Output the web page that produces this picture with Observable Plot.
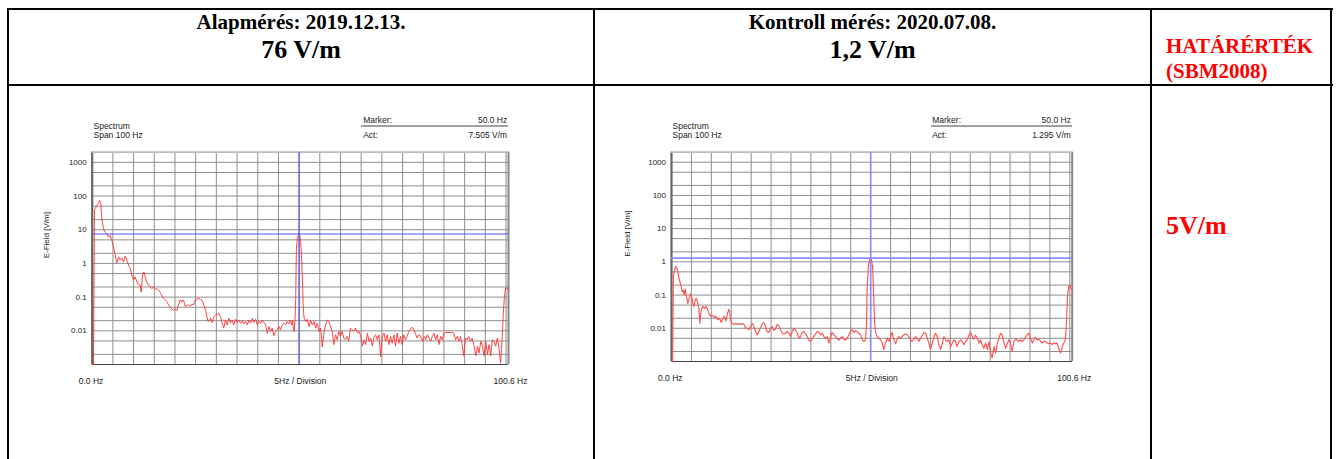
<!DOCTYPE html>
<html><head><meta charset="utf-8">
<script src="https://cdn.jsdelivr.net/npm/d3@7"></script>
<script src="https://cdn.jsdelivr.net/npm/@observablehq/plot@0.6"></script>
<style>
body{margin:0;background:#fff;width:1338px;height:459px;overflow:hidden;position:relative;font-family:"Liberation Serif","Times New Roman",serif;}
.ln{position:absolute;background:#000;}
.t{position:absolute;font-weight:bold;white-space:nowrap;color:#000;}
.red{color:#ff0000;}
.plot{position:absolute;}
.uline{position:absolute;height:1.5px;background:#a0a0a0;}
</style></head><body>
<div class="ln" style="left:7px;top:8px;width:1326px;height:2px"></div>
<div class="ln" style="left:7px;top:84px;width:1326px;height:2px"></div>
<div class="ln" style="left:7px;top:8px;width:2px;height:460px"></div>
<div class="ln" style="left:593px;top:8px;width:2px;height:460px"></div>
<div class="ln" style="left:1150px;top:8px;width:2px;height:460px"></div>
<div class="ln" style="left:1330px;top:8px;width:2px;height:460px"></div>

<div class="t" id="h1a" style="left:9px;width:584px;top:12px;font-size:21px;line-height:21px;text-align:center"></div>
<div class="t" id="h1b" style="left:9px;width:584px;top:37px;font-size:26px;line-height:26px;text-align:center"></div>
<div class="t" id="h2a" style="left:595px;width:555px;top:12px;font-size:21px;line-height:21px;text-align:center"></div>
<div class="t" id="h2b" style="left:595px;width:555px;top:37px;font-size:26px;line-height:26px;text-align:center"></div>
<div class="t red" id="h3a" style="left:1166px;top:36px;font-size:21px;line-height:21px"></div>
<div class="t red" id="h3b" style="left:1166px;top:61px;font-size:21px;line-height:21px"></div>
<div class="t red" id="lim" style="left:1166px;top:213px;font-size:26px;line-height:26px"></div>

<div class="plot" id="p1" style="left:30px;top:100px"></div>
<div class="plot" id="p2" style="left:610px;top:100px"></div>
<div class="uline" style="left:361px;top:125px;width:147px"></div>
<div class="uline" style="left:931px;top:125px;width:141px"></div>

<script>
// ---- header texts ----
const headers = ["Alapmérés: 2019.12.13.", "76 V/m", "Kontroll mérés: 2020.07.08.", "1,2 V/m"];
const limitTitle = ["HATÁRÉRTÉK", "(SBM2008)"];
const limitValue = "5V/m";

// ---- spectrum 1 (Alapmérés) : frequency [Hz], E-field [V/m] ----
const freq1 = [0.0,0.3,0.55,0.72,1.12,1.52,1.76,2.09,2.33,2.73,3.13,3.54,3.94,4.34,4.74,5.15,5.55,5.95,6.36,6.76,7.16,7.57,7.97,8.37,8.77,9.18,9.58,9.98,10.39,10.79,11.19,11.59,11.84,12.16,12.48,12.8,13.2,13.61,14.01,14.41,14.82,15.22,15.62,16.03,16.43,16.83,17.24,17.64,18.05,18.45,18.85,19.25,19.65,20.06,20.46,20.86,21.26,21.67,22.07,22.47,22.88,23.28,23.68,24.09,24.49,24.89,25.3,25.8,26.2,26.6,27.0,27.4,27.8,28.0,28.4,28.6,29.0,29.4,29.8,30.2,30.6,31.0,31.4,31.8,32.2,32.6,
33.0,33.4,33.8,34.2,34.6,35.0,35.4,35.9,36.3,36.7,37.1,37.5,37.9,38.3,38.7,39.1,39.5,39.9,40.3,40.7,41.1,41.5,41.9,42.3,42.7,43.1,43.5,43.9,44.3,44.7,45.1,45.5,45.9,46.3,46.7,47.1,47.5,47.9,48.2,48.4,48.6,48.8,49.0,49.17,49.33,49.58,49.85,50.0,50.14,50.38,50.62,50.86,51.0,51.2,51.6,52.0,52.4,52.8,53.2,53.6,54.0,54.4,54.8,55.2,55.6,56.0,56.4,56.8,57.2,57.6,58.0,58.4,58.8,59.2,59.6,60.0,60.4,60.8,61.2,61.6,62.0,62.4,62.8,63.2,63.6,64.1,64.5,64.9,65.3,65.7,66.1,66.5,66.9,67.3,67.7,68.1,68.5,68.9,69.3,69.7,70.1,70.5,70.9,71.3,71.7,72.1,72.5,72.9,73.3,73.7,74.1,74.5,74.9,75.3,75.7,76.1,
76.5,76.9,77.3,77.7,78.1,78.5,78.9,79.4,79.8,80.2,80.6,81.0,81.4,81.8,82.2,82.6,83.0,83.4,83.8,84.2,84.6,85.0,85.4,86.2,87.0,87.4,87.8,88.2,88.6,89.0,89.4,89.8,90.2,90.6,91.0,91.4,91.8,92.3,92.7,93.1,93.5,93.9,94.3,94.7,95.1,95.5,95.9,96.3,96.7,97.1,97.5,97.9,98.3,98.7,99.1,99.35,99.6,99.9,100.3,100.6];
const field1 = [0.001,0.001,40,42,53,59,74,59,21,10.7,8.5,7.6,6.0,6.8,4.8,3.1,1.8,1.05,1.55,1.25,1.45,1.1,1.65,1.25,0.89,0.71,0.45,0.32,0.4,0.28,0.23,0.23,0.14,0.45,0.56,0.4,0.28,0.23,0.2,0.18,0.2,0.17,0.18,0.16,0.14,0.11,0.093,0.083,0.074,0.059,0.05,0.045,0.04,0.045,0.04,0.059,0.083,0.071,0.083,0.053,0.056,0.059,0.053,0.062,0.059,0.083,0.087,0.091,0.085,0.078,0.058,0.041,0.024,0.019,0.021,0.024,0.0176,0.026,0.029,0.031,0.033,0.026,0.0168,0.012,0.021,0.015,
0.024,0.017,0.021,0.015,0.022,0.0176,0.021,0.0168,0.02,0.016,0.0188,0.015,0.021,0.0168,0.0236,0.0176,0.022,0.015,0.0188,0.0168,0.021,0.0176,0.015,0.0085,0.0134,0.0096,0.012,0.0071,0.0096,0.0107,0.0134,0.0107,0.015,0.0168,0.015,0.0188,0.016,0.021,0.015,0.021,0.012,0.0096,0.02,0.083,2.45,6.0,7.1,7.5,6.8,4.8,1.25,0.2,0.05,0.024,0.0188,0.022,0.0134,0.02,0.015,0.0188,0.012,0.0168,0.0096,0.012,0.0033,0.0085,0.015,0.021,0.0188,0.0134,0.0096,0.0039,0.0076,0.0054,0.0096,0.0068,0.0096,0.0061,0.0054,0.0068,0.0049,0.012,0.0107,0.0096,0.012,0.0085,0.0096,0.0068,0.0035,0.0054,0.0039,0.0085,0.0049,0.0061,0.0035,0.0068,0.0076,0.0054,0.0076,0.0017,0.0068,0.0085,0.0049,0.0076,0.0039,0.0068,0.0043,0.0076,0.0035,0.0085,0.0043,0.0068,0.0039,0.0076,0.0054,0.0068,
0.0096,0.0112,0.0128,0.0107,0.0085,0.0061,0.0076,0.0068,0.0049,0.0068,0.0054,0.0076,0.0061,0.0049,0.0068,0.0085,0.0054,0.0076,0.0039,0.0068,0.0054,0.0085,0.0089,0.0089,0.0089,0.0085,0.0054,0.0068,0.0049,0.0068,0.0039,0.0018,0.0061,0.0054,0.0068,0.0049,0.0061,0.0035,0.0018,0.0035,0.0022,0.0049,0.0035,0.0018,0.0049,0.002,0.0039,0.0018,0.0054,0.0049,0.0035,0.0061,0.0031,0.0011,0.0068,0.033,0.1,0.18,0.19,0.16];

// ---- spectrum 2 (Kontroll mérés) ----
const freq2 = [0.0,0.3,0.45,0.59,1.0,1.26,1.6,1.9,2.26,2.68,2.93,3.18,3.43,3.77,4.1,4.44,4.77,5.1,5.36,5.6,6.03,6.28,6.6,6.85,7.1,7.45,7.87,8.29,8.7,9.1,9.5,9.96,10.4,10.8,11.2,11.6,12.05,12.5,12.9,13.3,13.7,14.06,14.4,14.6,14.9,15.2,15.65,16.1,16.5,16.9,17.3,17.7,18.2,18.6,19.0,19.4,19.8,20.3,20.7,21.1,21.5,21.9,22.3,22.8,23.2,23.6,24.0,24.4,24.9,25.3,25.7,26.1,26.5,27.0,27.4,27.8,28.2,28.6,29.0,29.5,29.9,30.3,30.7,31.1,31.6,32.0,32.4,32.8,33.2,33.6,34.1,34.5,34.9,35.3,35.7,36.2,36.6,37.0,37.4,37.8,38.3,38.7,39.1,39.5,39.9,40.3,40.8,41.2,41.6,42.0,42.4,42.9,43.3,43.7,44.1,44.5,
44.95,45.4,45.8,46.2,46.6,47.0,47.5,47.9,48.3,48.7,48.97,49.1,49.4,49.7,50.0,50.2,50.5,50.7,51.0,51.2,51.6,52.1,52.5,52.9,53.3,53.7,54.2,54.6,55.0,55.4,55.8,56.3,56.7,57.1,57.5,57.9,58.3,58.8,59.2,59.6,60.0,60.4,60.9,61.3,61.7,62.1,62.5,63.0,63.4,63.8,64.2,64.6,65.0,65.5,65.9,66.3,66.7,67.1,67.6,68.0,68.4,68.8,69.2,69.6,70.1,70.5,70.9,71.3,71.7,72.2,72.6,73.0,73.4,73.8,74.2,74.7,75.1,75.5,75.9,76.3,76.8,77.2,77.6,78.0,78.4,78.85,79.3,79.7,80.1,80.5,81.0,81.4,81.8,82.2,82.6,83.0,83.5,83.9,84.3,84.7,85.1,85.5,86.0,86.4,86.8,87.2,87.6,88.0,88.5,88.9,89.3,89.7,90.1,90.6,91.0,91.4,91.8,92.2,92.7,93.1,93.5,93.9,94.3,94.75,95.2,95.6,96.0,96.4,96.8,97.3,97.7,98.1,98.5,98.9,99.2,99.4,99.7,99.95,100.3,100.55];
const field2 = [0.001,0.001,0.3,0.44,0.73,0.67,0.48,0.31,0.22,0.125,0.14,0.1,0.155,0.088,0.056,0.079,0.11,0.088,0.056,0.045,0.075,0.079,0.056,0.04,0.0143,0.036,0.045,0.04,0.046,0.036,0.026,0.023,0.024,0.021,0.023,0.018,0.02,0.015,0.02,0.023,0.0165,0.028,0.037,0.032,0.0165,0.014,0.013,0.014,0.013,0.014,0.013,0.014,0.013,0.0101,0.0101,0.009,0.0113,0.014,0.0113,0.008,0.0063,0.008,0.0101,0.014,0.0148,0.0113,0.008,0.0075,0.0101,0.0113,0.0085,0.0093,0.013,0.012,0.009,0.0071,0.0067,0.0071,0.008,0.0071,0.0057,0.008,0.0101,0.009,0.0071,0.005,0.0057,0.0075,0.008,0.0069,0.0056,0.0044,0.004,0.0047,0.0056,0.0069,0.008,0.0075,0.0063,0.0071,0.0056,0.005,0.0056,0.0036,0.005,0.0075,0.0063,0.0056,0.005,0.0044,0.005,0.0056,0.0047,0.0044,0.005,0.0063,
0.008,0.009,0.0075,0.0085,0.008,0.0071,0.0063,0.0045,0.004,0.0045,0.014,0.14,0.69,1.15,1.295,1.15,0.69,0.14,0.014,0.008,0.0056,0.005,0.0045,0.0036,0.0023,0.0036,0.005,0.004,0.0056,0.0075,0.0045,0.0034,0.005,0.0056,0.005,0.0056,0.0063,0.0068,0.0063,0.0056,0.0045,0.004,0.0047,0.0056,0.005,0.004,0.005,0.0063,0.0075,0.0071,0.005,0.0036,0.0023,0.0036,0.0056,0.0071,0.0056,0.0032,0.0023,0.0036,0.0056,0.0045,0.004,0.0045,0.0028,0.0036,0.0045,0.004,0.0028,0.004,0.0045,0.004,0.0032,0.004,0.0045,0.0063,0.0075,0.0056,0.0047,0.0063,0.005,0.0036,0.0045,0.0032,0.0025,0.0036,0.0023,0.004,0.0018,0.0013,0.0028,0.0018,0.0036,0.005,0.0071,0.0063,0.0036,0.0025,0.0034,0.0045,0.0036,0.002,0.004,0.0047,0.0045,0.004,0.0045,0.004,0.0045,0.0056,0.0063,0.0071,0.005,0.0036,0.0047,0.0054,0.0045,0.0047,0.004,0.0036,0.004,0.004,0.0036,0.0034,0.0036,0.0032,0.0037,0.0034,0.0036,0.0023,0.0018,0.0028,0.0036,0.0045,0.018,0.088,0.175,0.2,0.155,0.14];

// ---- axes / grid / marker ----
const gridHz = [0,5,10,15,20,25,30,35,40,45,50,55,60,65,70,75,80,85,90,95,100];
const gridV = [0.001,0.002,0.005,0.01,0.02,0.05,0.1,0.2,0.5,1,2,5,10,20,50,100,200,500,1000,2000];
const tickV = [1000,100,10,1,0.1,0.01];
const markerHz = 50;
const marker1 = 7.505, marker2 = 1.295;
const markerLabel1 = "7.505 V/m", markerLabel2 = "1.295 V/m";

document.getElementById("h1a").textContent = headers[0];
document.getElementById("h1b").textContent = headers[1];
document.getElementById("h2a").textContent = headers[2];
document.getElementById("h2b").textContent = headers[3];
document.getElementById("h3a").textContent = limitTitle[0];
document.getElementById("h3b").textContent = limitTitle[1];
document.getElementById("lim").textContent = limitValue;

function spectrum(o) {
  const data = o.freq.map((f, i) => ({f, v: o.field[i]}));
  const txt = (s, opts) => Plot.text([s], {text: d => d, lineAnchor: "middle", ...opts});
  return Plot.plot({
    width: o.width, height: o.height,
    marginLeft: o.ml, marginRight: o.mr, marginTop: o.mt, marginBottom: o.mb,
    style: {fontFamily: "'Liberation Sans', Arial, sans-serif", fontSize: "8.5px", color: "#1a1a1a", background: "transparent", overflow: "visible"},
    x: {domain: [0, 100.6], axis: null},
    y: {type: "log", domain: [0.001, 2000], axis: null},
    marks: [
      Plot.ruleX(gridHz, {stroke: "#8e8e8e", strokeWidth: 1}),
      Plot.ruleY(gridV, {stroke: "#8e8e8e", strokeWidth: 1}),
      Plot.ruleX([0], {stroke: "#666", strokeWidth: 2.2}),
      Plot.ruleX([100.6], {stroke: "#888", strokeWidth: 2}),
      Plot.ruleY([2000], {stroke: "#bbb", strokeWidth: 1.5}),
      Plot.ruleY([0.001], {stroke: "#444", strokeWidth: 1}),
      Plot.axisY(tickV, {tickSize: 0, tickPadding: 5.5, tickFormat: d => String(d), fontSize: 8, label: null}),
      Plot.line(data, {x: "f", y: "v", stroke: o.red, strokeWidth: o.redW}),
      Plot.ruleX([markerHz], {stroke: o.blue, strokeWidth: o.blueW}),
      Plot.ruleY([o.marker], {stroke: o.blue, strokeWidth: o.blueW}),
      txt("E-Field [V/m]", {frameAnchor: "left", rotate: -90, dx: o.labelDx, fontSize: 8}),
      txt("Spectrum", {frameAnchor: "top-left", textAnchor: "start", dx: o.sdx, dy: -25.7}),
      txt("Span 100 Hz", {frameAnchor: "top-left", textAnchor: "start", dx: o.sdx, dy: -16.7}),
      txt("Marker:", {frameAnchor: "top-left", textAnchor: "start", dx: o.mdx, dy: -31.7}),
      txt("50.0 Hz", {frameAnchor: "top-right", textAnchor: "end", dx: -1.3, dy: -31.7}),
      txt("Act:", {frameAnchor: "top-left", textAnchor: "start", dx: o.mdx, dy: -16.7}),
      txt(o.markerLabel, {frameAnchor: "top-right", textAnchor: "end", dx: -1.3, dy: -16.7}),
      txt("0.0 Hz", {frameAnchor: "bottom-left", textAnchor: "start", dx: -13.5, dy: o.bdy}),
      txt("5Hz / Division", {frameAnchor: "bottom", textAnchor: "middle", dy: o.bdy}),
      txt("100.6 Hz", {frameAnchor: "bottom-right", textAnchor: "end", dx: 19, dy: o.bdy})
    ]
  });
}

document.getElementById("p1").append(spectrum({
  freq: freq1, field: field1, marker: marker1, markerLabel: markerLabel1,
  width: 510, height: 300, ml: 61.7, mr: 32, mt: 51.7, mb: 36,
  red: "#ff3030", redW: 0.9, blue: "#5050f0", blueW: 1.1,
  labelDx: -45.7, sdx: 1.3, mdx: 271, bdy: 17
}));
document.getElementById("p2").append(spectrum({
  freq: freq2, field: field2, marker: marker2, markerLabel: markerLabel2,
  width: 500, height: 300, ml: 61, mr: 38.3, mt: 51.7, mb: 39,
  red: "#ff4d4d", redW: 1.1, blue: "#8c8cff", blueW: 1.6,
  labelDx: -44, sdx: 1, mdx: 260.7, bdy: 16.7
}));
</script>
</body></html>
